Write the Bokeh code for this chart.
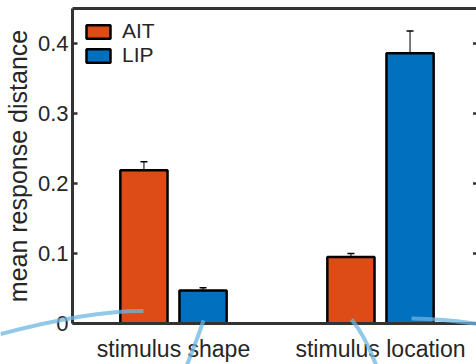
from bokeh.plotting import figure
from bokeh.models import (ColumnDataSource, Whisker, TeeHead, LinearAxis, FixedTicker,
                          Legend, LegendItem, Range1d, GridBox)
from bokeh.embed import file_html
from bokeh.resources import INLINE

# ---- data ----
categories = ["stimulus shape", "stimulus location"]
series = ["AIT", "LIP"]
ait_mean = [0.219, 0.095]
ait_err = [0.012, 0.005]
lip_mean = [0.047, 0.386]
lip_err = [0.004, 0.032]
y_ticks = [0, 0.1, 0.2, 0.3, 0.4]
y_tick_labels = ["0", "0.1", "0.2", "0.3", "0.4"]

# decorative light-blue arcs (quadratic Bezier: start, control, end; data units)
arc_x0 = [0.164, 1.145, 1.860, 2.150]
arc_y0 = [-0.005, 0.014, 0.0153, 0.0167]
arc_cx = [0.599, 1.116, 1.923, 2.314]
arc_cy = [0.028, -0.011, -0.006, 0.016]
arc_x1 = [0.855, 1.063, 1.981, 2.483]
arc_y1 = [0.0272, -0.050, -0.050, 0.0084]

C_AIT = "#DD4B16"
C_LIP = "#0070BF"
TXT = "#262626"
AX = "#333333"
FONT = "Liberation Sans"

W, H = 476, 364
BL, BR, BT, BB = 72, 0, 8, 34
X0, X1 = 0.5121, 2.4638
Y0, Y1 = 0.0, 0.45

pos = [i + 1 for i in range(len(categories))]
off = 0.1428
bw = 0.228

src_ait = ColumnDataSource(dict(x=[q - off for q in pos], top=ait_mean,
                                up=[m + e for m, e in zip(ait_mean, ait_err)],
                                lo=[m - e for m, e in zip(ait_mean, ait_err)]))
src_lip = ColumnDataSource(dict(x=[q + off for q in pos], top=lip_mean,
                                up=[m + e for m, e in zip(lip_mean, lip_err)],
                                lo=[m - e for m, e in zip(lip_mean, lip_err)]))

p = figure(width=W, height=H, output_backend="svg", toolbar_location=None,
           x_range=Range1d(X0, X1), y_range=Range1d(Y0, Y1),
           min_border_left=BL, min_border_right=BR, min_border_top=BT, min_border_bottom=BB)
p.frame_align = False
p.outline_line_color = None
p.xgrid.visible = False
p.ygrid.visible = False
p.background_fill_color = "white"
p.border_fill_color = "white"

r_ait = p.vbar(x="x", top="top", width=bw, source=src_ait, fill_color=C_AIT,
               line_color="black", line_width=2.5)
r_lip = p.vbar(x="x", top="top", width=bw, source=src_lip, fill_color=C_LIP,
               line_color="black", line_width=2.5)

for s in (src_ait, src_lip):
    w = Whisker(base="x", upper="up", lower="lo", source=s, line_color="#333333", line_width=1.3,
                upper_head=TeeHead(size=7, line_color="black", line_width=1.5),
                lower_head=TeeHead(size=7, line_color="black", line_width=1.5))
    p.add_layout(w)

# right-side inward ticks
p.scatter(x=[X1] * len(y_ticks[1:]), y=y_ticks[1:], marker="dash", size=7,
          line_color=AX, line_width=2.5)

# x axis
xa = p.xaxis[0]
xa.ticker = FixedTicker(ticks=pos)
xa.major_label_overrides = {q: c for q, c in zip(pos, categories)}
xa.axis_line_width = 3
xa.axis_line_color = AX
xa.major_tick_line_color = None
xa.minor_tick_line_color = None
xa.major_label_text_font = FONT
xa.major_label_text_font_size = "23px"
xa.major_label_text_color = TXT
xa.major_label_standoff = 6

# y axis
ya = p.yaxis[0]
ya.ticker = FixedTicker(ticks=y_ticks)
ya.major_label_overrides = {t: l for t, l in zip(y_ticks, y_tick_labels)}
ya.axis_line_width = 3
ya.axis_line_color = AX
ya.major_tick_in = 5
ya.major_tick_out = 0
ya.major_tick_line_width = 2.5
ya.major_tick_line_color = AX
ya.minor_tick_line_color = None
ya.major_label_text_font = FONT
ya.major_label_text_font_size = "22px"
ya.major_label_text_color = TXT
ya.major_label_standoff = 4
ya.axis_label = "mean response distance"
ya.axis_label_text_font = FONT
ya.axis_label_text_font_size = "25px"
ya.axis_label_text_font_style = "normal"
ya.axis_label_text_color = TXT
ya.axis_label_standoff = 3

# top frame line
top = LinearAxis(ticker=FixedTicker(ticks=[]), axis_line_width=3, axis_line_color=AX,
                 major_tick_line_color=None, minor_tick_line_color=None)
p.add_layout(top, "above")

legend = Legend(items=[LegendItem(label=series[0], renderers=[r_ait]),
                       LegendItem(label=series[1], renderers=[r_lip])],
                location="top_left", margin=5, padding=6, spacing=-4,
                glyph_width=30, glyph_height=17, label_height=17, label_standoff=9,
                label_text_font=FONT, label_text_font_size="21px", label_text_color=TXT,
                border_line_alpha=0, background_fill_alpha=0)
p.add_layout(legend)

# transparent overlay figure covering the whole canvas, same data mapping, for the arcs
ux = (X1 - X0) / (W - BL - BR)
uy = (Y1 - Y0) / (H - BT - BB)
ov = figure(width=W, height=H, output_backend="svg", toolbar_location=None,
            x_range=Range1d(X0 - BL * ux, X1 + BR * ux),
            y_range=Range1d(Y0 - BB * uy, Y1 + BT * uy),
            x_axis_location=None, y_axis_location=None,
            min_border_left=0, min_border_right=0, min_border_top=0, min_border_bottom=0)
ov.frame_align = False
ov.outline_line_color = None
ov.xgrid.visible = False
ov.ygrid.visible = False
ov.background_fill_alpha = 0
ov.border_fill_alpha = 0
ov.quadratic(x0=arc_x0, y0=arc_y0, x1=arc_x1, y1=arc_y1, cx=arc_cx, cy=arc_cy,
             line_color="#6DB6E0", line_alpha=0.75, line_width=4)

grid = GridBox(children=[(p, 0, 0), (ov, 0, 0)])
open("out.html", "w").write(file_html(grid, INLINE))
